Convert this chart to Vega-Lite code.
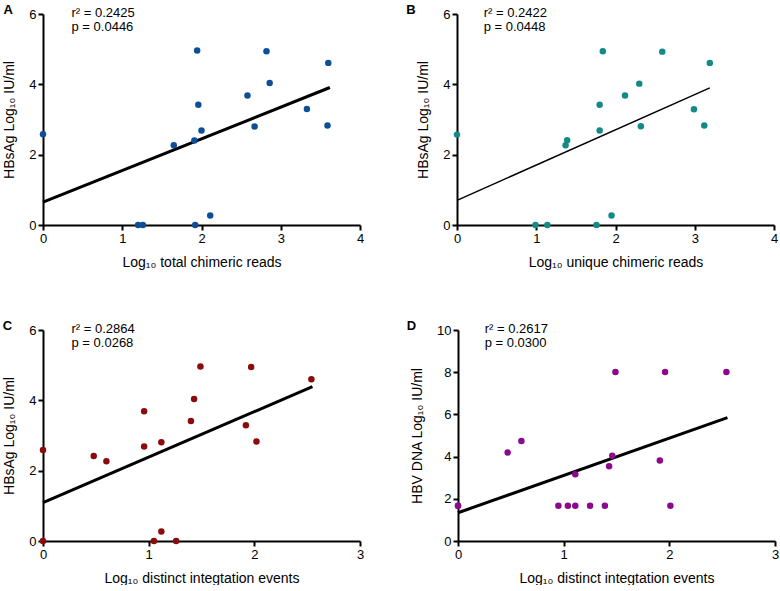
{
  "$schema": "https://vega.github.io/schema/vega-lite/v6.json",
  "padding": {"left": 2, "top": 4, "right": 0, "bottom": 0},
  "background": "white",
  "config": {
    "view": {"stroke": null},
    "font": "Liberation Sans",
    "axis": {
      "grid": false,
      "domainColor": "black",
      "domainWidth": 2,
      "tickColor": "black",
      "tickWidth": 2,
      "tickSize": 5,
      "labelFont": "Liberation Sans",
      "labelFontSize": 13,
      "labelColor": "black",
      "labelPadding": 2,
      "labelFlush": false,
      "format": "d",
      "titleFont": "Liberation Sans",
      "titleFontSize": 14,
      "titleFontWeight": "normal",
      "titleColor": "black"
    },
    "axisX": {"titlePadding": 10},
    "axisY": {"titlePadding": 12},
    "text": {"font": "Liberation Sans", "fontSize": 13, "color": "black"}
  },
  "datasets": {
    "a": [
      {"x": 0, "y": 2.58}, {"x": 1.945, "y": 4.96}, {"x": 2.82, "y": 4.94}, {"x": 3.6, "y": 4.61},
      {"x": 2.86, "y": 4.04}, {"x": 2.58, "y": 3.68}, {"x": 1.96, "y": 3.42}, {"x": 3.33, "y": 3.30},
      {"x": 2.67, "y": 2.80}, {"x": 3.59, "y": 2.83}, {"x": 2.0, "y": 2.69}, {"x": 1.65, "y": 2.27},
      {"x": 1.91, "y": 2.40}, {"x": 2.11, "y": 0.27}, {"x": 1.2, "y": 0}, {"x": 1.26, "y": 0}, {"x": 1.92, "y": 0}
    ],
    "aFit": [{"x": 0, "y": 0.65}, {"x": 3.62, "y": 3.91}],
    "b": [
      {"x": 0, "y": 2.57}, {"x": 1.84, "y": 4.94}, {"x": 2.59, "y": 4.93}, {"x": 3.19, "y": 4.61},
      {"x": 2.30, "y": 4.02}, {"x": 2.12, "y": 3.68}, {"x": 1.80, "y": 3.42}, {"x": 2.99, "y": 3.29},
      {"x": 2.32, "y": 2.81}, {"x": 3.12, "y": 2.83}, {"x": 1.80, "y": 2.69}, {"x": 1.39, "y": 2.41},
      {"x": 1.37, "y": 2.27}, {"x": 1.95, "y": 0.27}, {"x": 0.99, "y": 0}, {"x": 1.14, "y": 0}, {"x": 1.76, "y": 0}
    ],
    "bFit": [{"x": 0, "y": 0.70}, {"x": 3.19, "y": 3.90}],
    "c": [
      {"x": 0, "y": 2.59}, {"x": 0, "y": 0}, {"x": 1.49, "y": 4.96}, {"x": 1.97, "y": 4.95},
      {"x": 2.54, "y": 4.60}, {"x": 1.43, "y": 4.04}, {"x": 0.957, "y": 3.69}, {"x": 1.40, "y": 3.41},
      {"x": 1.92, "y": 3.29}, {"x": 2.02, "y": 2.83}, {"x": 0.957, "y": 2.69}, {"x": 1.12, "y": 2.81},
      {"x": 0.48, "y": 2.42}, {"x": 0.60, "y": 2.27}, {"x": 1.12, "y": 0.27}, {"x": 1.05, "y": 0}, {"x": 1.26, "y": 0}
    ],
    "cFit": [{"x": 0, "y": 1.09}, {"x": 2.55, "y": 4.39}],
    "d": [
      {"x": 0, "y": 1.67}, {"x": 0, "y": 1.67}, {"x": 1.49, "y": 8.01}, {"x": 1.96, "y": 8.01},
      {"x": 2.54, "y": 8.01}, {"x": 0.60, "y": 4.74}, {"x": 0.47, "y": 4.19}, {"x": 1.46, "y": 4.04},
      {"x": 1.43, "y": 3.54}, {"x": 1.91, "y": 3.81}, {"x": 1.11, "y": 3.16}, {"x": 0.95, "y": 1.67},
      {"x": 1.04, "y": 1.67}, {"x": 1.11, "y": 1.67}, {"x": 1.25, "y": 1.67}, {"x": 1.39, "y": 1.67}, {"x": 2.01, "y": 1.67}
    ],
    "dFit": [{"x": 0, "y": 1.34}, {"x": 2.55, "y": 5.85}]
  },
  "spacing": 51,
  "vconcat": [
    {
      "spacing": 42,
      "hconcat": [
        {
          "width": 317, "height": 211,
          "layer": [
            {
              "data": {"name": "aFit"},
              "mark": {"type": "line", "color": "black", "strokeWidth": 3},
              "encoding": {
                "x": {"field": "x", "type": "quantitative", "scale": {"domain": [0, 4], "nice": false}, "axis": {"title": "Log₁₀ total chimeric reads", "values": [0, 1, 2, 3, 4]}},
                "y": {"field": "y", "type": "quantitative", "scale": {"domain": [0, 6], "nice": false}, "axis": {"title": "HBsAg  Log₁₀ IU/ml", "values": [0, 2, 4, 6]}}
              }
            },
            {
              "data": {"name": "a"},
              "mark": {"type": "point", "filled": true, "size": 42, "opacity": 1, "color": "#0d4f96"},
              "encoding": {"x": {"field": "x", "type": "quantitative"}, "y": {"field": "y", "type": "quantitative"}}
            },
            {
              "data": {"values": [{}]},
              "mark": {"type": "text", "text": ["r² = 0.2425", "p = 0.0446"], "align": "left", "baseline": "top", "lineHeight": 14},
              "encoding": {"x": {"datum": 0.36}, "y": {"datum": 6.2}}
            },
            {
              "data": {"values": [{}]},
              "mark": {"type": "text", "text": "A", "fontWeight": "bold", "align": "left", "baseline": "alphabetic"},
              "encoding": {"x": {"datum": -0.5}, "y": {"datum": 6}}
            }
          ]
        },
        {
          "width": 317, "height": 211,
          "layer": [
            {
              "data": {"name": "bFit"},
              "mark": {"type": "line", "color": "black", "strokeWidth": 1.5},
              "encoding": {
                "x": {"field": "x", "type": "quantitative", "scale": {"domain": [0, 4], "nice": false}, "axis": {"title": "Log₁₀ unique chimeric reads", "values": [0, 1, 2, 3, 4]}},
                "y": {"field": "y", "type": "quantitative", "scale": {"domain": [0, 6], "nice": false}, "axis": {"title": "HBsAg  Log₁₀ IU/ml", "values": [0, 2, 4, 6]}}
              }
            },
            {
              "data": {"name": "b"},
              "mark": {"type": "point", "filled": true, "size": 42, "opacity": 1, "color": "#138a86"},
              "encoding": {"x": {"field": "x", "type": "quantitative"}, "y": {"field": "y", "type": "quantitative"}}
            },
            {
              "data": {"values": [{}]},
              "mark": {"type": "text", "text": ["r² = 0.2422", "p = 0.0448"], "align": "left", "baseline": "top", "lineHeight": 14},
              "encoding": {"x": {"datum": 0.337}, "y": {"datum": 6.2}}
            },
            {
              "data": {"values": [{}]},
              "mark": {"type": "text", "text": "B", "fontWeight": "bold", "align": "left", "baseline": "alphabetic"},
              "encoding": {"x": {"datum": -0.64}, "y": {"datum": 6}}
            }
          ]
        }
      ]
    },
    {
      "spacing": 42,
      "hconcat": [
        {
          "width": 317, "height": 211,
          "layer": [
            {
              "data": {"name": "cFit"},
              "mark": {"type": "line", "color": "black", "strokeWidth": 3},
              "encoding": {
                "x": {"field": "x", "type": "quantitative", "scale": {"domain": [0, 3], "nice": false}, "axis": {"title": "Log₁₀ distinct integtation events", "values": [0, 1, 2, 3]}},
                "y": {"field": "y", "type": "quantitative", "scale": {"domain": [0, 6], "nice": false}, "axis": {"title": "HBsAg  Log₁₀ IU/ml", "values": [0, 2, 4, 6]}}
              }
            },
            {
              "data": {"name": "c"},
              "mark": {"type": "point", "filled": true, "size": 42, "opacity": 1, "color": "#8b0a0c"},
              "encoding": {"x": {"field": "x", "type": "quantitative"}, "y": {"field": "y", "type": "quantitative"}}
            },
            {
              "data": {"values": [{}]},
              "mark": {"type": "text", "text": ["r² = 0.2864", "p = 0.0268"], "align": "left", "baseline": "top", "lineHeight": 14},
              "encoding": {"x": {"datum": 0.27}, "y": {"datum": 6.2}}
            },
            {
              "data": {"values": [{}]},
              "mark": {"type": "text", "text": "C", "fontWeight": "bold", "align": "left", "baseline": "alphabetic"},
              "encoding": {"x": {"datum": -0.38}, "y": {"datum": 6}}
            }
          ]
        },
        {
          "width": 317, "height": 211,
          "layer": [
            {
              "data": {"name": "dFit"},
              "mark": {"type": "line", "color": "black", "strokeWidth": 3},
              "encoding": {
                "x": {"field": "x", "type": "quantitative", "scale": {"domain": [0, 3], "nice": false}, "axis": {"title": "Log₁₀ distinct integtation events", "values": [0, 1, 2, 3]}},
                "y": {"field": "y", "type": "quantitative", "scale": {"domain": [0, 10], "nice": false}, "axis": {"title": "HBV DNA  Log₁₀ IU/ml", "values": [0, 2, 4, 6, 8, 10]}}
              }
            },
            {
              "data": {"name": "d"},
              "mark": {"type": "point", "filled": true, "size": 42, "opacity": 1, "color": "#8b0a8b"},
              "encoding": {"x": {"field": "x", "type": "quantitative"}, "y": {"field": "y", "type": "quantitative"}}
            },
            {
              "data": {"values": [{}]},
              "mark": {"type": "text", "text": ["r² = 0.2617", "p = 0.0300"], "align": "left", "baseline": "top", "lineHeight": 14},
              "encoding": {"x": {"datum": 0.253}, "y": {"datum": 10.33}}
            },
            {
              "data": {"values": [{}]},
              "mark": {"type": "text", "text": "D", "fontWeight": "bold", "align": "left", "baseline": "alphabetic"},
              "encoding": {"x": {"datum": -0.486}, "y": {"datum": 10}}
            }
          ]
        }
      ]
    }
  ]
}
